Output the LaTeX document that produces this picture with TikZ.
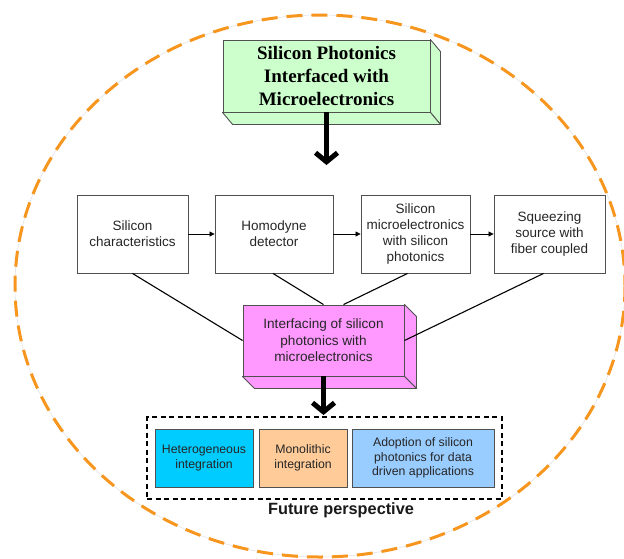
\documentclass[tikz,border=0pt]{standalone}
\usepackage{fontspec}
\setmainfont{Liberation Sans}
\newfontfamily\serifb{Liberation Serif}
\usetikzlibrary{arrows.meta,calc}
\definecolor{ellorange}{RGB}{247,150,30}
\definecolor{greenface}{RGB}{204,255,204}
\definecolor{pinkface}{RGB}{255,153,255}
\definecolor{cyanface}{RGB}{0,204,255}
\definecolor{peachface}{RGB}{255,204,153}
\definecolor{blueface}{RGB}{153,204,255}
\definecolor{edgegray}{RGB}{80,80,80}
\begin{document}
\begin{tikzpicture}[x=1pt,y=-1pt,
  rowbox/.style={draw=edgegray, fill=white, line width=0.9pt, inner sep=0pt,
    minimum height=78pt, align=center, text=black!85,
    font=\fontsize{13.5}{16}\selectfont},
  fpbox/.style={draw=edgegray, line width=0.9pt, inner sep=0pt,
    minimum height=58pt, align=center, text=black!85,
    font=\fontsize{12.3}{14.5}\selectfont},
  face/.style={draw=edgegray, line width=0.9pt, line join=round},
  thin arrow/.style={draw=black, line width=0.8pt, -{Triangle[length=5pt,width=5pt]}},
  link/.style={draw=black, line width=1.1pt},
  bigarrow/.style={draw=black, line width=5pt, -{Straight Barb[length=9pt,width=22pt]}}
]
\useasboundingbox (0,0) rectangle (624,558);
% dashed ellipse
\draw[gray!25, line width=0.5pt] (320,286) ellipse [x radius=305, y radius=271];
\draw[ellorange, line width=3pt, dash pattern=on 16pt off 9pt] (320,286) ellipse [x radius=305, y radius=271];

% top green 3D box
\node[face, fill=greenface, minimum width=207pt, minimum height=72pt, inner sep=0pt,
  align=center, font=\serifb\bfseries\fontsize{19}{23}\selectfont] (g) at (326.5,76)
  {Silicon Photonics\\Interfaced with\\Microelectronics};
\draw[face, fill=greenface] (g.north east) -- ++(10,12) -- ($(g.south east)+(10,12)$) -- (g.south east) -- cycle;
\draw[face, fill=greenface] (g.south west) -- ++(10,12) -- ($(g.south east)+(10,12)$) -- (g.south east) -- cycle;
\coordinate (a1) at (326.5,165);
\draw[bigarrow] (g.south) -- (a1);

% row of boxes
\node[rowbox, minimum width=111pt] (b1) at (132.5,234) {Silicon\\characteristics};
\node[rowbox, minimum width=118pt] (b2) at (274,234) {Homodyne\\detector};
\node[rowbox, minimum width=109pt] (b3) at (415.5,234) {Silicon\\microelectronics\\with silicon\\photonics};
\node[rowbox, minimum width=111pt] (b4) at (549.5,234) {Squeezing\\source with\\fiber coupled};
\draw[thin arrow] (b1) -- (b2);
\draw[thin arrow] (b2) -- (b3);
\draw[thin arrow] (b3) -- (b4);

% pink 3D box
\node[face, fill=pinkface, minimum width=161pt, minimum height=71pt, inner sep=0pt,
  align=center, text=black!85, font=\fontsize{13.6}{16.5}\selectfont] (p) at (323.5,340.5)
  {Interfacing of silicon\\photonics with\\microelectronics};
\draw[face, fill=pinkface] (p.north east) -- ++(12,12) -- ($(p.south east)+(12,12)$) -- (p.south east) -- cycle;
\draw[face, fill=pinkface] (p.south west) -- ++(12,12) -- ($(p.south east)+(12,12)$) -- (p.south east) -- cycle;

\draw[link] (b1.south) -- (p.west);
\draw[link] ([xshift=-1pt]b2.south) -- (p.north);
\draw[link] ([xshift=-8pt]b3.south) -- ([xshift=20pt]p.north);
\draw[link] ([xshift=-6pt]b4.south) -- (p.east);

% future perspective
\node[draw=black, line width=2.5pt, dash pattern=on 5pt off 3.5pt, minimum width=355pt,
  minimum height=82pt, inner sep=0pt] (fp) at (324.5,458) {};
\coordinate (a2) at (323.5,415);
\draw[bigarrow] (p.south) -- (a2);
\node[fpbox, fill=cyanface, minimum width=98pt] (c1) at (204,458) {Heterogeneous\\integration};
\node[fpbox, fill=peachface, minimum width=88pt] (c2) at (303,458) {Monolithic\\integration};
\node[fpbox, fill=blueface, minimum width=142pt] (c3) at (423,458) {Adoption of silicon\\photonics for data\\driven applications};
\node[font=\bfseries\fontsize{16.3}{19}\selectfont, text=black!90] (fpl) at (341,510) {Future perspective};
\end{tikzpicture}
\end{document}
